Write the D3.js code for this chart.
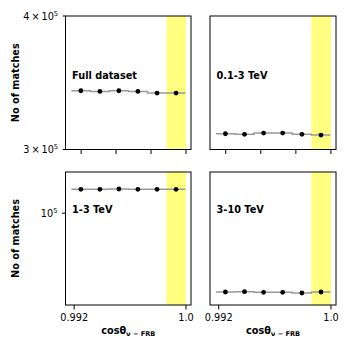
<!DOCTYPE html>
<html>
<head>
<meta charset="utf-8">
<script src="https://cdn.jsdelivr.net/npm/d3@7"></script>
<style>
  html, body { margin: 0; padding: 0; background: #fff; }
  svg { display: block; font-family: "DejaVu Sans", sans-serif; }
</style>
</head>
<body>
<svg id="chart" width="350" height="350"></svg>
<script>
// ---------------- data ----------------
const binCenters = [0.99248, 0.99384, 0.9952, 0.99656, 0.99793, 0.99929];
const binEdges   = [0.9918, 0.99316, 0.99452, 0.99588, 0.99724, 0.9986, 0.99996];
const fullDataset = [340500, 340000, 340500, 340000, 338800, 338800];
const tev01to3    = [310360, 309960, 310830, 310830, 309960, 309490];
const tev1to3     = [151200, 151200, 152000, 151200, 151200, 151200];
const tev3to10    = [25550, 25680, 25420, 25420, 25110, 25550];
const panelTitles = ["Full dataset", "0.1-3 TeV", "1-3 TeV", "3-10 TeV"];
const highlightBand = [0.9986, 1.0];
const xDomain = [0.99138, 1.00036];
const topYDomain = [3e5, 4e5];
const bottomYDomain = [2.04e4, 2.04e5];
const topYTicks = [[3e5, "3", "5"], [4e5, "4", "5"]];
const bottomYTicks = [[1e5, null, "5"]];
const topXTicks = [0.9925, 0.995, 0.9975, 1.0];
const bottomXTicks = [0.992, 1.0];
const bottomXTickLabels = ["0.992", "1.0"];
const yLabel = "No of matches";

// ---------------- layout ----------------
const svg = d3.select("#chart");
const cols = [[65.5, 191], [210, 336]];
const rows = [[16, 149.5], [172, 305]];
const FS = 9.72;

const panels = [
  {title: panelTitles[0], values: fullDataset, r: 0, c: 0},
  {title: panelTitles[1], values: tev01to3,    r: 0, c: 1},
  {title: panelTitles[2], values: tev1to3,     r: 1, c: 0},
  {title: panelTitles[3], values: tev3to10,    r: 1, c: 1}
];

panels.forEach(p => {
  const [x0, x1] = cols[p.c];
  const [y0, y1] = rows[p.r];
  const x = d3.scaleLinear().domain(xDomain).range([x0, x1]);
  const y = d3.scaleLog().domain(p.r === 0 ? topYDomain : bottomYDomain).range([y1, y0]);
  const g = svg.append("g");

  // highlight band
  g.append("rect")
    .attr("x", x(highlightBand[0])).attr("y", y0)
    .attr("width", x(highlightBand[1]) - x(highlightBand[0]))
    .attr("height", y1 - y0)
    .attr("fill", "#ffff80");

  // step line
  const stepVals = p.values.concat([p.values[p.values.length - 1]]);
  const line = d3.line()
    .x((d, i) => x(binEdges[i]))
    .y(d => y(d))
    .curve(d3.curveStepAfter);
  g.append("path").datum(stepVals)
    .attr("d", line)
    .attr("fill", "none")
    .attr("stroke", "#999")
    .attr("stroke-width", 1.5);

  // points
  g.selectAll("circle").data(p.values).enter().append("circle")
    .attr("cx", (d, i) => x(binCenters[i]))
    .attr("cy", d => y(d))
    .attr("r", 2.4)
    .attr("fill", "#000");

  // frame
  g.append("rect")
    .attr("x", x0).attr("y", y0)
    .attr("width", x1 - x0).attr("height", y1 - y0)
    .attr("fill", "none").attr("stroke", "#000").attr("stroke-width", 1);

  // x ticks
  const xt = p.r === 0 ? topXTicks : bottomXTicks;
  xt.forEach((t, i) => {
    g.append("line")
      .attr("x1", x(t)).attr("x2", x(t))
      .attr("y1", y1).attr("y2", y1 + 4.5)
      .attr("stroke", "#000").attr("stroke-width", 1);
    if (p.r === 1) {
      g.append("text")
        .attr("x", x(t)).attr("y", y1 + 15.5)
        .attr("text-anchor", "middle")
        .attr("font-size", FS)
        .text(bottomXTickLabels[i]);
    }
  });

  // y ticks (only on left column, labels)
  if (p.c === 0) {
    const yt = p.r === 0 ? topYTicks : bottomYTicks;
    const tlen = p.r === 0 ? 2.8 : 3.5;
    yt.forEach(([v, mant, ex]) => {
      g.append("line")
        .attr("x1", x0 - tlen).attr("x2", x0)
        .attr("y1", y(v)).attr("y2", y(v))
        .attr("stroke", "#000").attr("stroke-width", 1);
      const tx = g.append("text")
        .attr("x", x0 - tlen - 4.5).attr("y", y(v) + 3.5)
        .attr("text-anchor", "end")
        .attr("font-size", FS);
      tx.append("tspan").text(mant ? mant + "\u2009\u00d7\u200910" : "10");
      tx.append("tspan").attr("font-size", FS * 0.7).attr("dy", -4).text(ex);
    });
    // y label
    const cy = (y0 + y1) / 2;
    g.append("text")
      .attr("transform", `translate(18.5,${cy}) rotate(-90)`)
      .attr("text-anchor", "middle")
      .attr("font-size", FS)
      .attr("font-weight", "bold")
      .text(yLabel);
  }

  // panel title
  g.append("text")
    .attr("x", x0 + 6.6)
    .attr("y", p.r === 0 ? y0 + 62.6 : y0 + 41.3)
    .attr("font-size", FS)
    .attr("font-weight", "bold")
    .text(p.title);

  // x label
  if (p.r === 1) {
    const xl = g.append("text")
      .attr("x", (x0 + x1) / 2).attr("y", 333.5)
      .attr("text-anchor", "middle")
      .attr("font-size", FS)
      .attr("font-weight", "bold");
    xl.append("tspan").text("cos\u03b8");
    xl.append("tspan").attr("font-size", FS * 0.68).attr("dy", 2).text("\u03bd \u2212 FRB");
  }
});
</script>
</body>
</html>
